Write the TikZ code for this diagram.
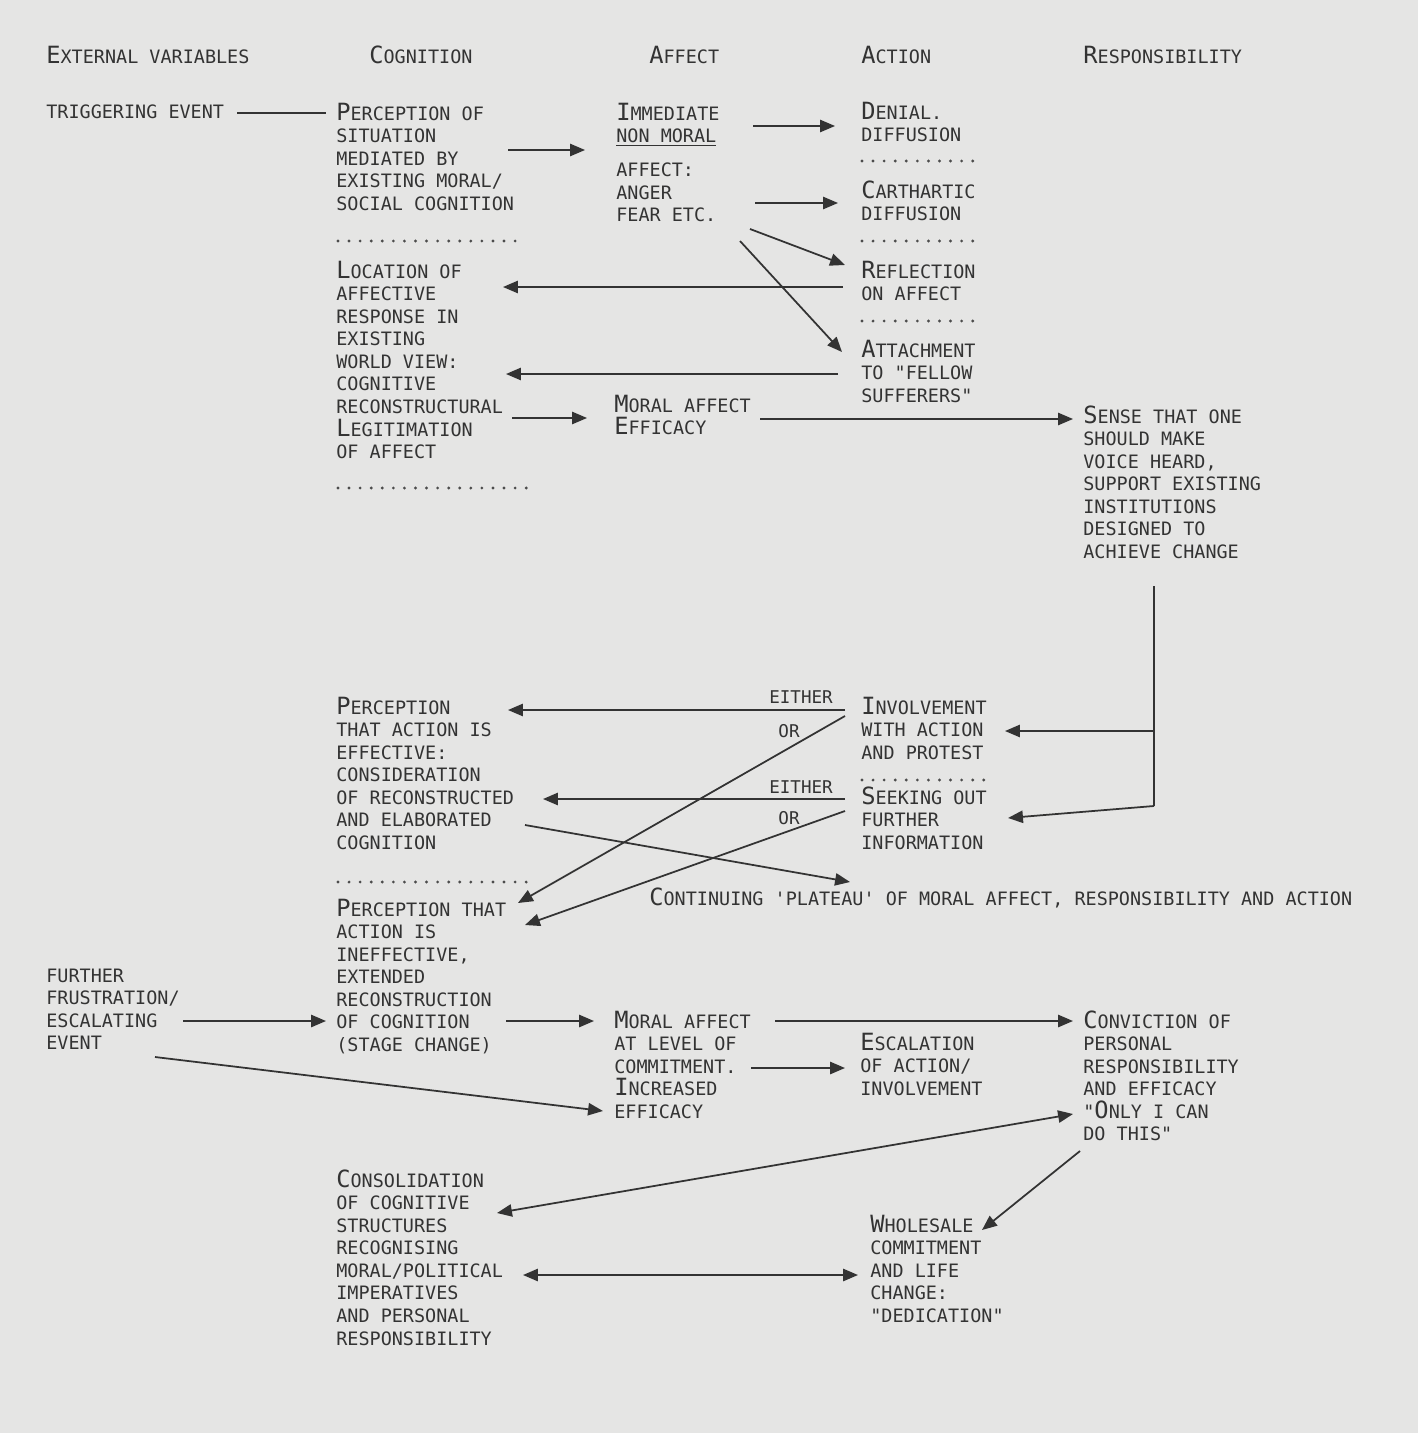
\documentclass[tikz,border=0pt]{standalone}
\usepackage{fontspec}
\setmonofont{DejaVu Sans Mono}
\usetikzlibrary{arrows.meta}

\definecolor{paper}{RGB}{229,229,228}
\newcommand{\bigInit}[1]{{\fontsize{13.5}{12.85}\selectfont #1}}

\begin{document}
\begin{tikzpicture}[x=0.02cm,y=-0.02cm,
    every node/.style={anchor=base west,inner sep=0pt,text width=15cm,align=left,text=black!80,
      font=\ttfamily\fontsize{10.5}{12.85}\selectfont,
      execute at begin node={\spaceskip=0pt\xspaceskip=0pt}},
    arr/.style={draw=black!80,line width=1pt,-{Triangle[length=8.5pt,width=7pt]}},
    both/.style={arr,{Triangle[length=8.5pt,width=7pt]}-{Triangle[length=8.5pt,width=7pt]}},
    plain/.style={draw=black!80,line width=1pt},
    dotRow/.style={draw=black!70,line width=1.8pt,line cap=round,dash pattern=on 0pt off 6.3pt},
    choice/.style={anchor=base,text width=2cm,align=center,font=\ttfamily\fontsize{10}{12}\selectfont}]
  \fill[paper] (0,0) rectangle (1418,1433);
  \useasboundingbox (0,0) rectangle (1418,1433);

  % column heads
  \node (ext) at (46,64) {\bigInit{E}XTERNAL VARIABLES};
  \node (cog) at (369,64) {\bigInit{C}OGNITION};
  \node (aff) at (649,64) {\bigInit{A}FFECT};
  \node (act) at (861,64) {\bigInit{A}CTION};
  \node (resp) at (1083,64) {\bigInit{R}ESPONSIBILITY};

  % first stage
  \node (trig) at (46,118) {TRIGGERING EVENT};
  \node (percep) at (336,120) {\bigInit{P}ERCEPTION OF\\SITUATION\\MEDIATED BY\\EXISTING MORAL/\\SOCIAL COGNITION};
  \node (locate) at (336,278) {\bigInit{L}OCATION OF\\AFFECTIVE\\RESPONSE IN\\EXISTING\\WORLD VIEW:\\COGNITIVE\\RECONSTRUCTURAL\\\bigInit{L}EGITIMATION\\OF AFFECT};
  \node (immed) at (616,120) {\bigInit{I}MMEDIATE\\\underline{NON MORAL}\\[6.5pt]AFFECT:\\ANGER\\FEAR ETC.};
  \node (denial) at (861,119) {\bigInit{D}ENIAL.\\DIFFUSION};
  \node (cathar) at (861,198) {\bigInit{C}ARTHARTIC\\DIFFUSION};
  \node (reflect) at (861,278) {\bigInit{R}EFLECTION\\ON AFFECT};
  \node (attach) at (861,357) {\bigInit{A}TTACHMENT\\TO "FELLOW\\SUFFERERS"};
  \node (moral) at (614,412) {\bigInit{M}ORAL AFFECT\\\bigInit{E}FFICACY};
  \node (sense) at (1083,423) {\bigInit{S}ENSE THAT ONE\\SHOULD MAKE\\VOICE HEARD,\\SUPPORT EXISTING\\INSTITUTIONS\\DESIGNED TO\\ACHIEVE CHANGE};

  % second stage
  \node (effect) at (336,714) {\bigInit{P}ERCEPTION\\THAT ACTION IS\\EFFECTIVE:\\CONSIDERATION\\OF RECONSTRUCTED\\AND ELABORATED\\COGNITION};
  \node (ineffect) at (336,916) {\bigInit{P}ERCEPTION THAT\\ACTION IS\\INEFFECTIVE,\\EXTENDED\\RECONSTRUCTION\\OF COGNITION\\(STAGE CHANGE)};
  \node (involve) at (861,714) {\bigInit{I}NVOLVEMENT\\WITH ACTION\\AND PROTEST};
  \node (seek) at (861,804) {\bigInit{S}EEKING OUT\\FURTHER\\INFORMATION};
  \node (plateau) at (649,905) {\bigInit{C}ONTINUING 'PLATEAU' OF MORAL AFFECT, RESPONSIBILITY AND ACTION};
  \node[choice] (either1) at (801,703) {EITHER};
  \node[choice] (or1) at (789,737) {OR};
  \node[choice] (either2) at (801,793) {EITHER};
  \node[choice] (or2) at (789,824) {OR};

  % third stage
  \node (further) at (46,982) {FURTHER\\FRUSTRATION/\\ESCALATING\\EVENT};
  \node (moral2) at (614,1028) {\bigInit{M}ORAL AFFECT\\AT LEVEL OF\\COMMITMENT.\\\bigInit{I}NCREASED\\EFFICACY};
  \node (escal) at (860,1050) {\bigInit{E}SCALATION\\OF ACTION/\\INVOLVEMENT};
  \node (convict) at (1083,1028) {\bigInit{C}ONVICTION OF\\PERSONAL\\RESPONSIBILITY\\AND EFFICACY\\"\bigInit{O}NLY I CAN\\DO THIS"};
  \node (consol) at (336,1187) {\bigInit{C}ONSOLIDATION\\OF COGNITIVE\\STRUCTURES\\RECOGNISING\\MORAL/POLITICAL\\IMPERATIVES\\AND PERSONAL\\RESPONSIBILITY};
  \node (whole) at (870,1232) {\bigInit{W}HOLESALE\\COMMITMENT\\AND LIFE\\CHANGE:\\"DEDICATION"};

  % dotted separators
  \foreach \x/\y/\len in {338/241/180, 338/488/190, 862/161/112, 862/241/112,
      862/321/112, 338/882/190, 862/780/123}
    \draw[dotRow] (\x,\y) -- ++(\len,0);

  % top part
  \draw[plain] ([shift={(191,-5)}]trig.base west) -- ([shift={(-10,-7)}]percep.base west);
  \draw[arr] ([shift={(172,30)}]percep.base west) -- ([shift={(-31,30)}]immed.base west);
  \draw[arr] ([shift={(137,6)}]immed.base west) -- ([shift={(-26,7)}]denial.base west);
  \draw[arr] ([shift={(139,83)}]immed.base west) -- ([shift={(-23,5)}]cathar.base west);
  \draw[arr] ([shift={(134,109)}]immed.base west) -- ([shift={(-16,-13)}]reflect.base west);
  \draw[arr] ([shift={(124,121)}]immed.base west) -- ([shift={(-19,-5)}]attach.base west);
  \draw[arr] ([shift={(-18,9)}]reflect.base west) -- ([shift={(167,9)}]locate.base west);
  \draw[arr] ([shift={(-23,17)}]attach.base west) -- ([shift={(170,96)}]locate.base west);
  \draw[arr] ([shift={(176,140)}]locate.base west) -- ([shift={(-27,6)}]moral.base west);
  \draw[arr] ([shift={(146,7)}]moral.base west) -- ([shift={(-10,-4)}]sense.base west);

  % bracket out of the responsibility column
  \coordinate (splitTop) at (1154,586);
  \coordinate (splitMid) at (1154,731);
  \coordinate (splitBot) at (1154,806);
  \draw[plain] (splitTop) -- (splitBot);
  \draw[arr] (splitMid) -- ([shift={(144,17)}]involve.base west);
  \draw[arr] (splitBot) -- ([shift={(147,14)}]seek.base west);

  % either / or
  \draw[arr] ([shift={(-16,-4)}]involve.base west) -- ([shift={(172,-4)}]effect.base west);
  \draw[arr] ([shift={(-16,-5)}]seek.base west) -- ([shift={(207,85)}]effect.base west);
  \draw[arr] ([shift={(-16,2)}]involve.base west) -- ([shift={(182,-13)}]ineffect.base west);
  \draw[arr] ([shift={(-16,7)}]seek.base west) -- ([shift={(189,9)}]ineffect.base west);
  \draw[arr] ([shift={(189,111)}]effect.base west) -- ([shift={(201,-23)}]plateau.base west);

  % bottom part
  \draw[arr] ([shift={(137,39)}]further.base west) -- ([shift={(-10,105)}]ineffect.base west);
  \draw[arr] ([shift={(170,105)}]ineffect.base west) -- ([shift={(-20,-7)}]moral2.base west);
  \draw[arr] ([shift={(109,75)}]further.base west) -- ([shift={(-11,83)}]moral2.base west);
  \draw[arr] ([shift={(161,-7)}]moral2.base west) -- ([shift={(-10,-7)}]convict.base west);
  \draw[arr] ([shift={(137,40)}]moral2.base west) -- ([shift={(-15,18)}]escal.base west);
  \draw[both] ([shift={(161,26)}]consol.base west) -- ([shift={(-10,86)}]convict.base west);
  \draw[arr] ([shift={(-3,123)}]convict.base west) -- ([shift={(112,-2)}]whole.base west);
  \draw[both] ([shift={(187,88)}]consol.base west) -- ([shift={(-12,43)}]whole.base west);
\end{tikzpicture}
\end{document}
